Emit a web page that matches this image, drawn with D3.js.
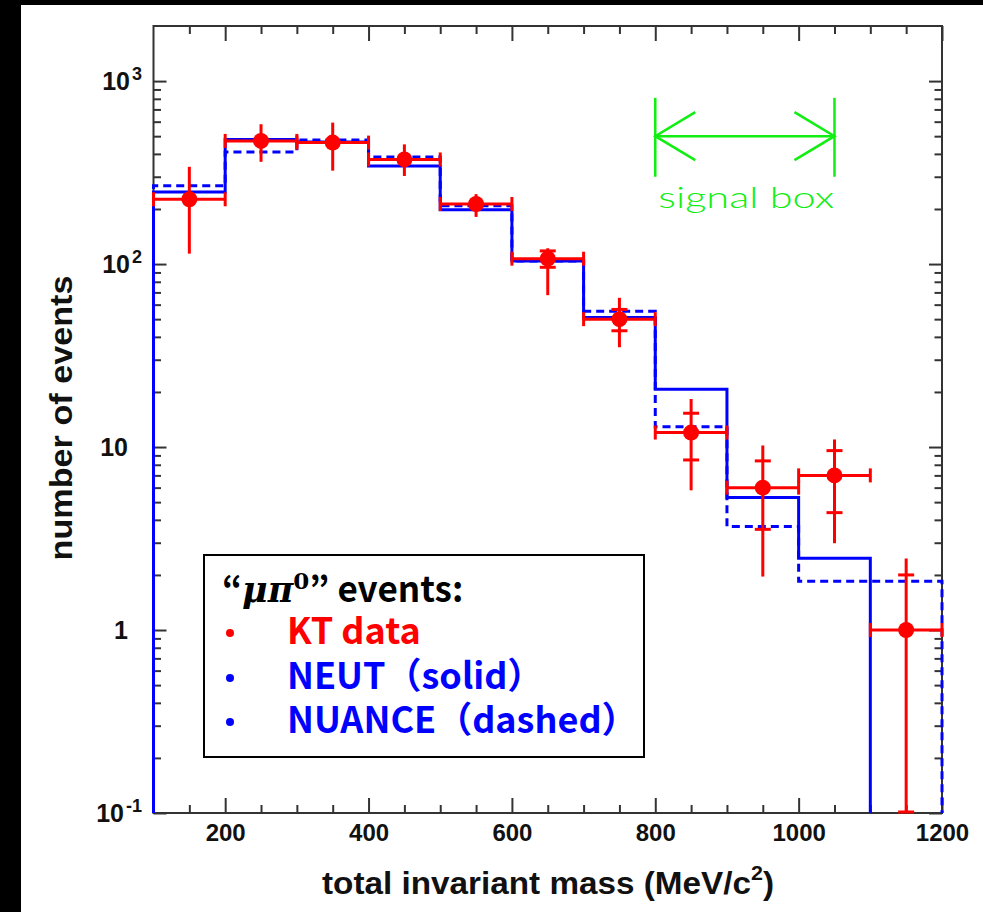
<!DOCTYPE html>
<html>
<head>
<meta charset="utf-8">
<script src="https://cdn.jsdelivr.net/npm/d3@7"></script>
<style>
  html, body { margin: 0; padding: 0; background: #000; }
  svg { display: block; }
</style>
</head>
<body>
<div id="chart"></div>
<script>
// bin edges (MeV/c^2)
var binEdges = [100, 200, 300, 400, 500, 600, 700, 800, 900, 1000, 1100, 1200];
// MC predictions per bin
var neutVals   = [248, 480, 464, 343, 198, 104, 51, 20.7, 5.3, 2.47, 0];
var nuanceVals = [268, 410, 477, 385, 208, 104, 55.3, 12.9, 3.68, 1.85, 1.85];
// KT data points
var dataX   = [150, 250, 350, 450, 550, 650, 750, 850, 950, 1050, 1150];
var dataY   = [226, 471, 461, 373, 213, 107, 50, 12.0, 6.0, 7.0, 1.0];
var errHi   = [340, 581, 593, 451, 241, 122, 65.4, 18.3, 10.2, 11.0, 2.46];
var errLo   = [114, 362, 324, 303, 181, 67.6, 35.1, 5.8, 1.96, 2.98, 0];
var statHi  = [null, null, null, null, null, 118, 56.5, 15.3, 8.4, 9.56, 2.0];
var statLo  = [null, null, null, null, null, 96, 43.2, 8.5, 3.55, 4.38, null];
// axis ticks
var xMajor = [200, 400, 600, 800, 1000, 1200];
var xMinor = d3.range(150, 1200, 50).filter(function(v){ return xMajor.indexOf(v) < 0; });
var yMajor = [0.1, 1, 10, 100, 1000];
var yLabels = [["10", "-1"], ["1", ""], ["10", ""], ["10", "2"], ["10", "3"]];
// signal box annotation (data units)
var signalBox = { lo: 800, hi: 1050, top: 810, bottom: 300, mid: 500, label: "signal box" };

var W = 983, H = 912;
var m = { left: 153.5, right: 942, top: 26, bottom: 813 };

var svg = d3.select("#chart").append("svg")
    .attr("width", W).attr("height", H);

svg.append("rect").attr("x", 21).attr("y", 5)
    .attr("width", W - 21).attr("height", H - 5).attr("fill", "#fff");

var x = d3.scaleLinear().domain([100, 1200]).range([m.left, m.right]);
var y = d3.scaleLog().domain([0.1, 2000]).range([m.bottom, m.top]).clamp(true);
function yv(v){ return v > 0 ? y(v) : m.bottom; }

var yMinor = [];
[0.1, 1, 10, 100, 1000].forEach(function(d){
    for (var k = 2; k <= 9; k++) { if (d * k < 2000) yMinor.push(d * k); }
});

// frame
svg.append("rect")
    .attr("x", m.left).attr("y", m.top)
    .attr("width", m.right - m.left).attr("height", m.bottom - m.top)
    .attr("fill", "none").attr("stroke", "#333").attr("stroke-width", 2);

function ticks(axis, tr){
    var g = svg.append("g").attr("transform", tr).call(axis);
    g.select(".domain").remove();
    g.selectAll("line").attr("stroke", "#333").attr("stroke-width", 2);
    return g;
}
ticks(d3.axisBottom(x).tickValues(xMajor).tickSize(-15).tickFormat(""), "translate(0," + m.bottom + ")");
ticks(d3.axisBottom(x).tickValues(xMinor).tickSize(-8).tickFormat(""), "translate(0," + m.bottom + ")");
ticks(d3.axisTop(x).tickValues(xMajor).tickSize(-15).tickFormat(""), "translate(0," + m.top + ")");
ticks(d3.axisTop(x).tickValues(xMinor).tickSize(-8).tickFormat(""), "translate(0," + m.top + ")");
ticks(d3.axisLeft(y).tickValues(yMajor).tickSize(-13).tickFormat(""), "translate(" + m.left + ",0)");
ticks(d3.axisLeft(y).tickValues(yMinor).tickSize(-7.5).tickFormat(""), "translate(" + m.left + ",0)");
ticks(d3.axisRight(y).tickValues(yMajor).tickSize(-13).tickFormat(""), "translate(" + m.right + ",0)");
ticks(d3.axisRight(y).tickValues(yMinor).tickSize(-7.5).tickFormat(""), "translate(" + m.right + ",0)");

// x tick labels
var xl = d3.axisBottom(x).tickValues(xMajor).tickSize(0).tickPadding(11).tickFormat(d3.format("d"));
var xg = svg.append("g").attr("transform", "translate(0," + m.bottom + ")").call(xl);
xg.select(".domain").remove();
xg.selectAll("text")
    .attr("font-family", "Liberation Sans, Arial, sans-serif")
    .attr("font-weight", "bold").attr("font-size", 24).attr("fill", "#111");

// y tick labels
yMajor.forEach(function(v, i){
    var lab = yLabels[i];
    var t = svg.append("text")
        .attr("x", lab[1] ? 142 : 128)
        .attr("y", y(v) + 9)
        .attr("text-anchor", "end")
        .attr("font-family", "Liberation Sans, Arial, sans-serif")
        .attr("font-weight", "bold").attr("font-size", 25).attr("fill", "#111");
    t.append("tspan").text(lab[0]);
    if (lab[1]) {
        t.append("tspan").attr("font-size", 18).attr("dy", -10).attr("dx", 2).text(lab[1]);
    }
});

// axis titles
var xt = svg.append("text")
    .attr("x", 548).attr("y", 894)
    .attr("text-anchor", "middle")
    .attr("font-family", "Liberation Sans, Arial, sans-serif")
    .attr("font-weight", "bold").attr("font-size", 31).attr("fill", "#111")
    .attr("textLength", 452).attr("lengthAdjust", "spacingAndGlyphs");
xt.append("tspan").text("total invariant mass (MeV/c");
xt.append("tspan").attr("font-size", 20).attr("dy", -14).text("2");
xt.append("tspan").attr("dy", 14).text(")");

svg.append("text")
    .attr("transform", "translate(72,418) rotate(-90)")
    .attr("text-anchor", "middle")
    .attr("font-family", "Liberation Sans, Arial, sans-serif")
    .attr("font-weight", "bold").attr("font-size", 31).attr("fill", "#111")
    .attr("textLength", 285).attr("lengthAdjust", "spacingAndGlyphs")
    .text("number of events");

// step histograms
function histPoints(vals, trim){
    var n = vals.length;
    if (trim) { while (n > 0 && vals[n - 1] <= 0) n--; }
    var pts = [[x(binEdges[0]), m.bottom]];
    for (var i = 0; i < n; i++) {
        pts.push([x(binEdges[i]), yv(vals[i])]);
        pts.push([x(binEdges[i + 1]), yv(vals[i])]);
    }
    pts.push([x(binEdges[n]), m.bottom]);
    return pts;
}
var line = d3.line();
svg.append("path")
    .attr("d", line(histPoints(nuanceVals, false)))
    .attr("fill", "none").attr("stroke", "#0000ff").attr("stroke-width", 3)
    .attr("stroke-dasharray", "8,5");
svg.append("path")
    .attr("d", line(histPoints(neutVals, true)))
    .attr("fill", "none").attr("stroke", "#0000ff").attr("stroke-width", 3);

// data with error bars
var red = "#ff0000";
var eg = svg.append("g").attr("stroke", red).attr("stroke-width", 3);
dataX.forEach(function(d, i){
    var cx = x(d), cy = yv(dataY[i]);
    var x0 = x(binEdges[i]), x1 = x(binEdges[i + 1]);
    eg.append("line").attr("x1", x0).attr("x2", x1).attr("y1", cy).attr("y2", cy);
    eg.append("line").attr("x1", x0).attr("x2", x0).attr("y1", cy - 7).attr("y2", cy + 7);
    eg.append("line").attr("x1", x1).attr("x2", x1).attr("y1", cy - 7).attr("y2", cy + 7);
    var yTop = yv(errHi[i]), yBot = yv(errLo[i]);
    eg.append("line").attr("x1", cx).attr("x2", cx).attr("y1", yTop).attr("y2", yBot);
    if (errLo[i] <= 0) {
        eg.append("line").attr("x1", cx - 8).attr("x2", cx + 8).attr("y1", m.bottom - 1).attr("y2", m.bottom - 1);
    }
    [statHi[i], statLo[i]].forEach(function(s){
        if (s == null) return;
        eg.append("line").attr("x1", cx - 8).attr("x2", cx + 8).attr("y1", yv(s)).attr("y2", yv(s));
    });
    svg.append("circle").attr("cx", cx).attr("cy", cy).attr("r", 8).attr("fill", red);
});

// signal box arrow
var green = "#11ee11";
var sg = svg.append("g").attr("stroke", green).attr("stroke-width", 2.5).attr("fill", "none");
var sx0 = x(signalBox.lo), sx1 = x(signalBox.hi), sy = y(signalBox.mid);
sg.append("line").attr("x1", sx0).attr("x2", sx0).attr("y1", y(signalBox.top)).attr("y2", y(signalBox.bottom));
sg.append("line").attr("x1", sx1).attr("x2", sx1).attr("y1", y(signalBox.top)).attr("y2", y(signalBox.bottom));
sg.append("line").attr("x1", sx0).attr("x2", sx1).attr("y1", sy).attr("y2", sy);
sg.append("path").attr("d", "M" + (sx0 + 40) + "," + (sy - 24) + "L" + sx0 + "," + sy + "L" + (sx0 + 40) + "," + (sy + 24));
sg.append("path").attr("d", "M" + (sx1 - 40) + "," + (sy - 24) + "L" + sx1 + "," + sy + "L" + (sx1 - 40) + "," + (sy + 24));
svg.append("text")
    .attr("x", sx0 + 3).attr("y", 208)
    .attr("font-family", "Lato, 'Open Sans', sans-serif")
    .attr("font-weight", 300).attr("font-size", 30).attr("fill", green)
    .attr("textLength", 176).attr("lengthAdjust", "spacingAndGlyphs")
    .text(signalBox.label);

// legend
var legend = svg.append("g");
legend.append("rect")
    .attr("x", 204).attr("y", 555).attr("width", 440).attr("height", 202)
    .attr("fill", "#fff").attr("stroke", "#000").attr("stroke-width", 2);
var lf = "'Noto Sans CJK JP', 'Noto Sans', sans-serif";
var title = legend.append("text")
    .attr("x", 222).attr("y", 602)
    .attr("font-family", lf).attr("font-weight", "bold").attr("font-size", 35).attr("fill", "#000");
title.append("tspan").text("\u201C");
title.append("tspan").attr("font-family", "'DejaVu Serif', serif").attr("font-style", "italic").text("\u03BC\u03C0");
title.append("tspan").attr("font-family", "'DejaVu Serif', serif").attr("font-size", 23).attr("dy", -13).text("0");
title.append("tspan").attr("dy", 13).text("\u201D events:");

var legendItems = [
    { label: "KT data", color: "#ff0000", y: 644 },
    { label: "NEUT\uFF08solid\uFF09", color: "#0000ff", y: 689 },
    { label: "NUANCE\uFF08dashed\uFF09", color: "#0000ff", y: 733 }
];
legendItems.forEach(function(d){
    legend.append("circle").attr("cx", 230).attr("cy", d.y - 11).attr("r", 4).attr("fill", d.color);
    legend.append("text")
        .attr("x", 287).attr("y", d.y)
        .attr("font-family", lf).attr("font-weight", "bold").attr("font-size", 36)
        .attr("fill", d.color)
        .text(d.label);
});
</script>
</body>
</html>
